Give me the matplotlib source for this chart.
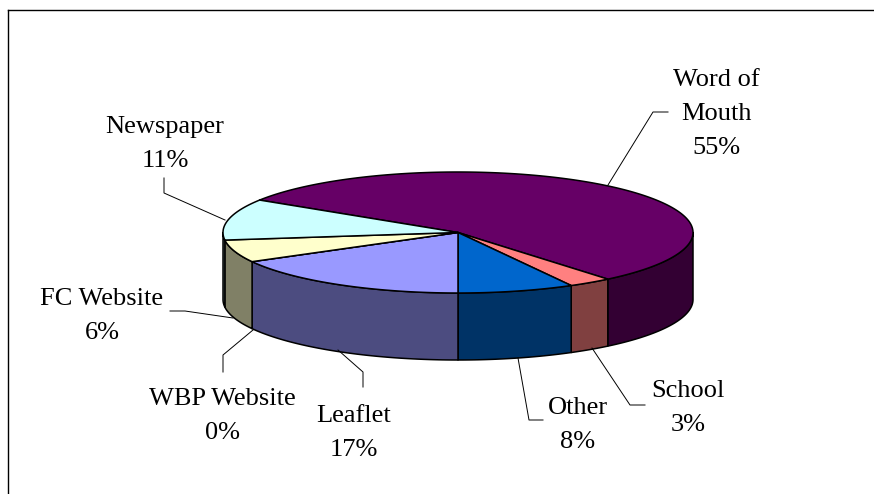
import numpy as np
import matplotlib
matplotlib.use("Agg")
import matplotlib.pyplot as plt
from matplotlib.patches import Polygon

# ---- data (clockwise order, starting at Word of Mouth) ----
categories = ["Word of Mouth", "School", "Other", "Leaflet",
              "WBP Website", "FC Website", "Newspaper"]
values = [55, 3, 8, 17, 0, 6, 11]

# ---- styles ----
top_colors = ["#660066", "#FF8080", "#0066CC", "#9999FF",
              "#CCCCFF", "#FFFFCC", "#CCFFFF"]
side_colors = ["#330033", "#804040", "#003366", "#4C4C80",
               "#666680", "#808066", "#668080"]
display_names = {"Word of Mouth": "Word of\nMouth"}

# ---- layout (pixel coordinates) ----
W, H = 874, 494
cx, cy = 458, 232.5
ra, rb = 235, 60.5
depth = 67
start_angle = 302.4  # degrees, clockwise from 12 o'clock

label_pos = {
    "Word of Mouth": (716, 114),
    "School": (688, 408),
    "Other": (578, 425),
    "Leaflet": (354, 433),
    "WBP Website": (222, 416),
    "FC Website": (102, 316),
    "Newspaper": (165, 144),
}
leaders = {
    "Word of Mouth": [(608, 185), (653, 112), (668, 112)],
    "School": [(592, 348), (630, 405), (645, 405)],
    "Other": [(518, 358), (529, 420), (543, 420)],
    "Leaflet": [(338, 350), (363, 372), (363, 387)],
    "WBP Website": [(253, 330), (223, 355), (223, 372)],
    "FC Website": [(170, 311), (185, 311), (233, 318)],
    "Newspaper": [(164, 178), (164, 193), (225, 220)],
}

fig = plt.figure(figsize=(W / 100, H / 100), dpi=100)
ax = fig.add_axes([0, 0, 1, 1])
ax.set_xlim(0, W)
ax.set_ylim(H, 0)
ax.axis("off")


def pt(theta_deg):
    t = np.radians(theta_deg)
    return cx + ra * np.sin(t), cy - rb * np.cos(t)


total = float(sum(values))
angles = [start_angle]
for v in values:
    angles.append(angles[-1] + 360.0 * v / total)

lw = 1.1

# side faces (visible front half: theta in [90, 270] mod 360)
for i, v in enumerate(values):
    if v == 0:
        continue
    a1, a2 = angles[i], angles[i + 1]
    for k in (-360, 0, 360):
        lo = max(a1 + k, 90)
        hi = min(a2 + k, 270)
        if hi > lo:
            th = np.linspace(lo, hi, 80)
            xs, ys = pt(th)
            poly = np.concatenate([
                np.column_stack([xs, ys]),
                np.column_stack([xs[::-1], ys[::-1] + depth]),
            ])
            ax.add_patch(Polygon(poly, closed=True, facecolor=side_colors[i],
                                 edgecolor="black", lw=lw, joinstyle="round"))

# top faces
for i, v in enumerate(values):
    a1, a2 = angles[i], angles[i + 1]
    n = max(2, int(abs(a2 - a1) * 2))
    th = np.linspace(a1, a2, n)
    xs, ys = pt(th)
    poly = np.concatenate([[[cx, cy]], np.column_stack([xs, ys])])
    ax.add_patch(Polygon(poly, closed=True, facecolor=top_colors[i],
                         edgecolor="black", lw=lw, joinstyle="round"))

# labels and leader lines
for name, v in zip(categories, values):
    txt = display_names.get(name, name) + "\n" + f"{v}%"
    x, y = label_pos[name]
    ax.text(x, y, txt, ha="center", va="center", fontsize=19,
            family="Liberation Serif", linespacing=1.68, color="black")
    pts = np.array(leaders[name])
    ax.plot(pts[:, 0], pts[:, 1], color="black", lw=0.7)

# chart frame (top and left edges)
ax.plot([8, 873], [10, 10], color="black", lw=1.0)
ax.plot([8, 8], [10, 494], color="black", lw=1.0)

fig.savefig("out.png", dpi=100, facecolor="white")
